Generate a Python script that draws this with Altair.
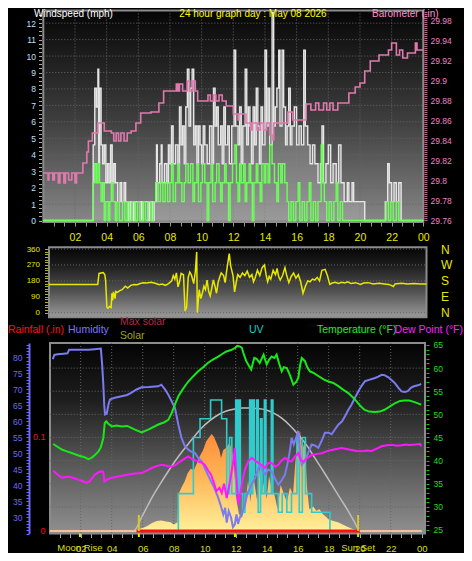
import altair as alt
import pandas as pd

FONT = "Liberation Sans"

# ---------------- top panel: wind (mph) and barometer (in) ----------------
gust = [(0.0,0),(3.1,0),(3.15,4.6),(3.25,8.05),(3.35,6.9),(3.45,9.2),(3.5,3.45),(3.55,8.05),(3.65,4.6),(3.75,3.45),
        (3.85,4.6),(3.95,2.3),(4.05,3.45),(4.15,2.3),(4.25,4.6),(4.35,2.3),(4.45,3.45),(4.55,2.3),(4.7,1.15),(4.85,2.3),
        (4.95,1.15),(5.1,2.3),(5.2,1.15),(5.4,0),(5.5,1.15),(5.7,0),(5.8,1.15),(6.2,0),(6.3,1.15),(6.6,0),(6.7,1.15),
        (6.9,0),(7.0,1.15),(7.15,4.6),(7.2,2.3),(7.35,3.45),(7.45,4.6),(7.5,2.3),(7.65,3.45),(7.8,2.3),(7.9,4.6),
        (8.0,3.45),(8.1,5.75),(8.2,3.45),(8.35,4.6),(8.5,3.45),(8.6,6.9),(8.7,4.6),(8.8,5.75),(8.9,3.45),(9.0,6.9),
        (9.1,9.2),(9.2,5.75),(9.3,8.05),(9.4,9.2),(9.5,4.6),(9.6,5.75),(9.7,3.45),(9.8,5.75),(9.9,4.6),(10.0,3.45),
        (10.1,5.75),(10.2,4.6),(10.35,3.45),(10.5,5.75),(10.65,3.45),(10.75,8.05),(10.85,5.75),(10.95,6.9),(11.05,4.6),
        (11.2,5.75),(11.3,3.45),(11.4,6.9),(11.5,4.6),(11.65,5.75),(11.75,3.45),(11.9,5.75),(12.05,10.35),(12.15,5.75),
        (12.3,4.6),(12.4,6.9),(12.5,3.45),(12.6,5.75),(12.75,9.2),(12.85,4.6),(12.95,6.9),(13.05,5.75),(13.15,3.45),
        (13.25,6.9),(13.35,4.6),(13.45,8.05),(13.55,5.75),(13.65,3.45),(13.75,6.9),(13.85,4.6),(14.0,10.35),(14.1,5.75),
        (14.2,8.05),(14.3,4.6),(14.45,12.65),(14.55,5.75),(14.65,6.9),(14.75,8.05),(14.87,10.35),(14.95,5.75),
        (15.08,10.35),(15.18,6.9),(15.3,4.6),(15.4,5.75),(15.5,8.05),(15.6,4.6),(15.7,5.75),(15.85,6.9),(16.0,4.6),
        (16.15,5.75),(16.3,4.6),(16.45,10.35),(16.55,5.75),(16.7,4.6),(16.85,3.45),(17.0,4.6),(17.15,3.45),(17.35,2.3),
        (17.5,3.45),(17.6,5.75),(17.7,2.3),(17.85,3.45),(18.0,4.6),(18.15,2.3),(18.3,3.45),(18.5,2.3),(18.65,4.6),
        (18.8,2.3),(19.0,1.15),(19.2,2.3),(19.3,1.15),(19.5,2.3),(19.6,1.15),(20.3,0),(21.6,1.15),(21.75,3.45),
        (21.85,2.3),(22.0,1.15),(22.15,2.3),(22.3,1.15),(22.45,2.3),(22.6,0),(24.0,0)]

avg = [(0,0),(3.15,2.3),(3.25,3.45),(3.35,2.3),(3.45,3.45),(3.55,2.3),(3.65,1.15),(3.75,2.3),(3.85,0),(3.95,1.15),
       (4.1,0),(4.2,1.15),(4.3,2.3),(4.4,1.15),(4.55,0),(4.65,1.15),(4.8,0),(5.0,1.15),(5.15,0),(5.3,1.15),(5.45,0),
       (5.6,1.15),(5.8,0),(5.95,1.15),(6.1,0),(6.3,1.15),(6.45,0),(6.6,1.15),(6.8,0),(6.95,1.15),(7.1,2.3),(7.25,1.15),
       (7.4,2.3),(7.55,1.15),(7.7,2.3),(7.85,1.15),(8.0,2.3),(8.1,3.45),(8.2,1.15),(8.35,2.3),(8.5,3.45),(8.6,2.3),
       (8.75,1.15),(8.9,2.3),(9.0,3.45),(9.15,2.3),(9.3,3.45),(9.45,1.15),(9.55,2.3),(9.7,3.45),(9.8,1.15),(9.95,2.3),
       (10.05,3.45),(10.2,2.3),(10.35,0),(10.45,2.3),(10.6,3.45),(10.7,1.15),(10.85,2.3),(10.95,3.45),(11.1,2.3),
       (11.2,1.15),(11.3,2.3),(11.45,3.45),(11.55,2.3),(11.7,0),(11.8,2.3),(11.95,3.45),(12.1,4.6),(12.2,2.3),
       (12.3,1.15),(12.4,3.45),(12.5,2.3),(12.65,3.45),(12.75,1.15),(12.85,2.3),(13.0,3.45),(13.1,2.3),(13.2,0),
       (13.3,2.3),(13.45,3.45),(13.55,2.3),(13.7,1.15),(13.8,3.45),(13.95,2.3),(14.05,3.45),(14.2,2.3),(14.3,4.6),
       (14.45,3.45),(14.6,2.3),(14.75,1.15),(14.85,3.45),(15.0,2.3),(15.1,3.45),(15.25,2.3),(15.4,1.15),(15.5,0),
       (15.65,1.15),(15.8,0),(15.95,1.15),(16.1,2.3),(16.2,0),(16.35,1.15),(16.5,0),(16.65,1.15),(16.8,2.3),(16.9,0),
       (17.05,1.15),(17.2,0),(17.35,1.15),(17.55,4.6),(17.65,2.3),(17.75,1.15),(17.9,0),(18.05,1.15),(18.2,0),
       (18.35,1.15),(18.5,2.3),(18.6,0),(18.75,1.15),(18.9,0),(21.65,1.15),(21.8,0),(21.95,1.15),(22.1,0),
       (22.3,1.15),(22.45,0),(24,0)]

baro = [(0.0,29.807),(0.3,29.80),(0.35,29.807),(0.6,29.80),(0.7,29.807),(0.95,29.797),(1.05,29.807),(1.3,29.797),
        (1.4,29.807),(1.6,29.80),(1.8,29.807),(2.0,29.797),(2.1,29.807),(2.5,29.817),(2.75,29.828),(2.85,29.839),
        (3.1,29.847),(3.45,29.857),(3.85,29.849),(4.3,29.847),(4.45,29.839),(4.6,29.847),(4.75,29.839),(4.9,29.847),
        (5.1,29.839),(5.3,29.847),(5.55,29.849),(5.85,29.857),(6.15,29.867),(6.8,29.868),(7.3,29.877),(7.6,29.889),
        (8.4,29.896),(8.5,29.889),(8.6,29.896),(8.8,29.889),(9.1,29.899),(9.25,29.889),(9.45,29.899),(9.6,29.889),
        (9.75,29.879),(10.4,29.885),(10.55,29.879),(10.75,29.885),(10.9,29.879),(11.1,29.885),(11.3,29.879),
        (11.55,29.874),(12.0,29.866),(12.3,29.86),(12.35,29.866),(12.8,29.857),(13.1,29.85),(13.2,29.857),(13.5,29.85),
        (13.7,29.857),(13.9,29.85),(14.1,29.857),(14.3,29.845),(14.5,29.84),(14.55,29.857),(15.45,29.868),(15.75,29.86),
        (16.6,29.876),(16.9,29.87),(17.2,29.877),(17.4,29.87),(17.7,29.877),(17.9,29.87),(18.1,29.877),(18.3,29.87),
        (18.6,29.877),(19.3,29.887),(19.7,29.893),(20.0,29.897),(20.3,29.909),(20.65,29.919),(21.2,29.925),
        (21.8,29.93),(22.0,29.937),(22.3,29.925),(22.5,29.93),(22.7,29.922),(23.0,29.927),(23.5,29.937),(23.6,29.93),
        (24.0,29.93)]

# ---------------- wind direction (degrees) ----------------
wind_dir = [(0,160),(3.1,160),(3.18,222),(3.45,227),(3.55,215),(3.6,180),(3.68,30),(3.75,25),(3.85,35),(3.95,30),
            (4.0,110),(4.05,70),(4.1,118),(4.2,80),(4.25,120),(4.35,115),(4.5,125),(4.65,130),(4.85,150),(5.0,140),
            (5.2,155),(5.4,160),(5.6,158),(5.8,165),(6.0,170),(6.2,168),(6.5,172),(6.8,165),(7.0,158),(7.2,162),
            (7.4,155),(7.6,165),(7.8,180),(7.9,210),(8.0,190),(8.1,225),(8.2,146),(8.3,175),(8.4,222),(8.55,215),
            (8.65,10),(8.75,30),(8.85,200),(8.95,230),(9.05,215),(9.2,165),(9.3,230),(9.39,344),(9.43,0),(9.55,130),
            (9.65,80),(9.75,110),(9.85,150),(9.95,130),(10.05,185),(10.15,120),(10.25,95),(10.35,140),(10.45,185),
            (10.55,150),(10.65,110),(10.75,170),(10.85,200),(10.95,225),(11.1,210),(11.2,170),(11.3,240),(11.46,335),
            (11.55,265),(11.7,210),(11.8,118),(11.9,170),(12.0,215),(12.15,200),(12.3,225),(12.45,210),(12.6,235),
            (12.75,200),(12.9,215),(13.0,175),(13.1,195),(13.25,240),(13.4,210),(13.55,255),(13.7,270),(13.8,215),
            (13.9,175),(14.0,205),(14.1,190),(14.25,240),(14.4,215),(14.5,250),(14.6,205),(14.7,185),(14.85,210),
            (15.0,255),(15.1,215),(15.25,170),(15.4,205),(15.55,225),(15.7,195),(15.85,215),(16.0,175),(16.15,110),
            (16.3,150),(16.45,180),(16.6,175),(16.75,190),(16.9,185),(17.05,200),(17.2,180),(17.35,240),(17.55,245),
            (17.7,210),(17.85,160),(18.0,168),(18.2,172),(18.4,165),(18.6,172),(18.8,168),(19.0,175),(19.2,165),
            (19.5,170),(19.8,160),(20.0,168),(20.3,170),(20.6,162),(21.0,166),(21.3,163),(21.6,160),(21.9,148),
            (22.0,163),(22.4,166),(22.8,163),(23.2,165),(23.6,162),(24.0,163)]

# ---------------- bottom panel ----------------
humidity = [(0.2,79.5),(0.3,80.8),(0.5,81.0),(0.9,81.2),(1.15,81.3),(1.25,82.4),(2.0,82.4),(2.5,82.4),(2.9,82.6),
            (3.3,82.8),(3.38,78.0),(3.46,71.5),(3.52,65.0),(3.57,62.2),(3.68,62.5),(3.8,65.5),(3.89,66.9),(4.2,67.4),
            (4.64,67.9),(5.0,68.3),(5.28,69.0),(5.6,70.0),(5.93,70.7),(6.4,70.8),(7.0,71.0),(7.2,71.5),(7.45,70.0),
            (7.65,68.4),(7.85,66.5),(8.08,64.3),(8.3,59.0),(8.5,54.9),(8.7,52.5),(8.94,51.2),(9.15,50.5),(9.37,50.2),
            (9.6,48.5),(9.8,47.6),(10.0,45.5),(10.2,43.4),(10.4,41.4),(10.6,39.5),(10.87,36.2),(11.05,33.5),(11.2,31.0),
            (11.32,33.0),(11.42,28.4),(11.55,32.0),(11.7,30.0),(11.82,27.0),(11.94,27.8),(12.05,31.0),(12.15,28.0),
            (12.26,29.9),(12.45,32.0),(12.6,34.0),(12.75,37.5),(12.92,39.2),(13.1,41.0),(13.25,42.3),(13.4,44.5),
            (13.55,46.5),(13.7,45.0),(13.89,43.4),(14.1,45.0),(14.32,44.4),(14.5,42.5),(14.75,40.2),(14.95,41.5),
            (15.18,43.4),(15.35,47.0),(15.5,51.0),(15.61,54.9),(15.75,52.8),(15.9,55.0),(16.04,57.0),(16.15,50.0),
            (16.26,46.5),(16.47,47.6),(16.7,50.5),(16.9,52.8),(17.1,52.5),(17.33,51.8),(17.55,54.0),(17.76,56.5),
            (18.0,56.5),(18.19,56.0),(18.4,57.5),(18.62,59.0),(18.85,60.0),(19.05,61.6),(19.25,63.5),(19.48,65.3),
            (19.7,67.5),(19.91,69.4),(20.1,71.0),(20.34,72.6),(20.6,73.0),(20.99,73.6),(21.2,74.0),(21.42,74.6),
            (21.6,74.5),(21.85,73.8),(22.05,73.0),(22.27,72.0),(22.5,70.5),(22.7,69.4),(22.9,69.2),(23.1,69.5),
            (23.3,70.5),(23.5,71.0),(23.75,71.3),(23.97,71.7)]

temperature = [(0.23,43.6),(0.5,43.0),(0.78,42.4),(1.1,42.0),(1.42,41.65),(1.85,41.1),(2.2,40.8),(2.49,40.3),
               (2.7,40.6),(2.92,41.2),(3.15,42.0),(3.3,42.9),(3.46,44.9),(3.55,48.1),(3.65,48.5),(3.8,47.9),(4.0,47.4),
               (4.3,47.6),(4.64,47.4),(5.0,47.5),(5.5,46.7),(5.93,46.1),(6.36,46.7),(7.01,47.8),(7.4,48.3),(7.65,48.8),
               (7.87,50.3),(8.1,52.3),(8.3,53.9),(8.6,55.5),(8.94,57.1),(9.25,58.2),(9.58,59.3),(9.9,60.2),(10.2,61.1),
               (10.5,61.8),(10.87,62.5),(11.1,63.0),(11.4,63.6),(11.7,63.9),(11.94,64.3),(12.1,64.8),(12.26,64.7),
               (12.4,64.4),(12.5,63.2),(12.68,61.5),(12.85,60.5),(13.0,59.7),(13.1,61.0),(13.2,62.2),(13.35,62.0),
               (13.55,61.1),(13.7,62.2),(13.8,62.9),(13.9,61.8),(14.0,60.8),(14.15,61.8),(14.32,62.5),(14.5,62.2),
               (14.64,62.9),(14.8,61.0),(14.97,59.3),(15.1,60.2),(15.3,60.0),(15.5,58.5),(15.72,56.4),(15.9,57.0),
               (16.04,57.9),(16.15,60.5),(16.26,62.2),(16.47,61.5),(16.6,60.3),(16.79,59.3),(17.0,59.0),(17.33,58.3),
               (17.7,57.5),(17.98,57.1),(18.3,56.8),(18.62,56.1),(18.95,55.3),(19.27,54.6),(19.55,53.7),(19.8,52.8),
               (20.05,51.8),(20.3,51.0),(20.6,50.6),(20.99,50.5),(21.3,50.6),(21.6,51.0),(21.9,51.6),(22.27,52.4),
               (22.6,52.9),(22.9,53.0),(23.2,53.0),(23.5,52.7),(23.97,52.1)]

dew_point = [(0.23,37.8),(0.5,37.0),(0.78,36.3),(1.1,36.5),(1.4,36.4),(1.85,35.9),(2.1,35.6),(2.39,35.2),(2.6,35.6),
             (2.92,37.0),(3.15,37.5),(3.35,37.7),(3.45,37.6),(3.53,35.5),(3.75,36.0),(4.0,36.3),(4.5,36.6),(5.07,37.0),
             (5.5,37.2),(5.93,37.3),(6.3,37.9),(6.58,38.4),(6.9,38.8),(7.22,39.1),(7.55,38.9),(7.87,38.7),(8.1,39.0),
             (8.3,39.5),(8.6,40.2),(8.94,40.9),(9.2,40.3),(9.58,39.8),(9.8,39.6),(10.0,39.1),(10.25,37.7),(10.4,37.0),
             (10.56,35.5),(10.76,33.4),(10.95,34.1),(11.1,33.0),(11.25,35.0),(11.42,31.9),(11.6,35.0),(11.74,37.7),
             (11.85,40.0),(11.94,42.7),(12.05,36.0),(12.17,30.5),(12.3,33.0),(12.47,36.3),(12.6,38.0),(12.8,39.8),
             (13.03,40.6),(13.25,40.0),(13.46,39.5),(13.7,39.0),(13.89,38.4),(14.1,39.5),(14.32,39.5),(14.55,38.7),
             (14.75,39.1),(14.95,40.0),(15.18,40.6),(15.4,40.0),(15.61,39.8),(15.8,40.8),(16.04,41.6),(16.2,40.0),
             (16.35,39.8),(16.6,40.5),(16.9,41.2),(17.2,41.4),(17.55,41.6),(17.85,42.0),(18.19,42.3),(18.5,42.5),
             (18.84,42.7),(19.15,42.5),(19.48,42.3),(19.8,42.1),(20.13,42.0),(20.45,42.2),(20.77,42.1),(21.1,42.6),
             (21.42,43.1),(21.75,43.3),(22.06,43.4),(22.4,43.2),(22.7,43.3),(23.0,43.5),(23.2,43.4),(23.6,43.5),
             (23.9,43.6),(23.97,43.1)]

solar = [(0,0),(5.4,0),(5.6,8),(6.0,20),(6.3,35),(6.6,55),(6.9,70),(7.2,72),(7.5,65),(7.8,60),(8.0,45),(8.25,60),
         (8.3,250),(8.5,300),(8.7,340),(8.9,400),(9.1,430),(9.3,420),(9.5,470),(9.7,520),(9.9,560),(10.1,620),
         (10.3,650),(10.45,670),(10.6,650),(10.8,600),(10.95,560),(11.05,505),(11.2,560),(11.4,575),(11.6,610),
         (11.75,560),(11.9,450),(12.0,250),(12.2,120),(12.4,90),(12.6,160),(12.8,350),(12.95,200),(13.1,420),
         (13.25,300),(13.4,200),(13.55,430),(13.7,280),(13.85,350),(14.0,220),(14.15,380),(14.3,300),(14.5,250),
         (14.7,150),(14.9,320),(15.1,260),(15.3,200),(15.5,300),(15.7,250),(15.85,480),(16.0,640),(16.15,690),
         (16.3,560),(16.45,620),(16.6,300),(16.75,150),(17.0,170),(17.2,140),(17.4,150),(17.6,120),(17.8,100),
         (18.0,80),(18.3,70),(18.6,60),(18.9,45),(19.2,30),(19.5,15),(19.8,5),(20.0,0),(24,0)]

max_solar = [(0,0),(5.4,0),(6.0,110),(6.58,228),(7.1,320),(7.65,413),(8.2,500),(8.73,574),(9.3,650),(9.8,712),
             (10.35,765),(10.88,804),(11.4,830),(11.95,844),(12.45,850),(12.92,850),(13.4,846),(13.9,839),
             (14.45,815),(14.97,781),(15.5,730),(16.04,666),(16.6,590),(17.1,505),(17.65,415),(18.2,320),
             (18.75,225),(19.27,136),(19.65,65),(20.02,0),(24,0)]

uv = [(0,0),(8.3,2),(9.27,5),(9.7,6),(10.38,7),(11.09,6),(11.42,2),(11.6,5),(11.75,2),(12.0,7),(12.1,2),(12.2,7),
      (12.3,2),(12.45,1),(12.6,2),(12.9,7),(13.0,2),(13.1,7),(13.2,3),(13.35,7),(13.45,1),(13.6,6),(13.7,2),
      (13.85,7),(13.95,2),(14.3,7),(14.4,2),(14.75,1),(15.0,2),(15.3,1),(15.6,2),(15.95,5),(16.1,1),(16.3,5),
      (16.5,2),(16.9,1),(18.08,0),(24,0)]

rainfall = [(0,0),(24,0)]
daylight = [(5.6,0),(20.0,0)]

event_h = [1.95, 5.75, 11.95, 19.9]
event_label = ["Moon Rise", "", "", "Sun Set"]
sun_h = [5.75, 19.9]

# ---------------- layout (chart pixels) ----------------
W, H = 456, 545
TOP_X, TOP_Y = [35.3, 415.3], [214, 2.5]
DIR_X, DIR_Y = [41, 418.5], [309.3, 239.3]
BOT_X, BOT_Y = [41.7, 413.7], [525.5, 335]

WS_DOM = [-0.09, 12.77]
BARO_DOM = [29.758, 29.9695]
DIR_DOM = [-26, 370]
TEMP_DOM = [24.24, 65.43]
HUM_DOM = [25, 84.53]
RAIN_DOM = [-0.00266, 0.2]
SOL_DOM = [-17.3, 1300]
UV_DOM = [-0.134, 10.05]


def frame(pairs):
    return pd.DataFrame({"h": [p[0] for p in pairs], "v": [p[1] for p in pairs]})


def xsc(rng):
    return alt.Scale(domain=[0, 24], range=rng, nice=False, zero=False)


def ysc(dom, rng):
    return alt.Scale(domain=dom, range=rng, nice=False, zero=False)


def axis(orient, offset, values, expr, lcolor, tcolor, lsize=8, tick=3, pad=2, **kw):
    args = dict(orient=orient, offset=offset, values=values, labelExpr=expr, labelColor=lcolor,
                labelFont=FONT, labelFontSize=lsize, tickColor=tcolor, tickSize=tick, labelPadding=pad,
                domain=False, grid=False, title=None, labelOverlap=False, labelFlush=False)
    args.update(kw)
    return alt.Axis(**args)


one = pd.DataFrame({"k": [0]})


def panel(x0, x1, y0, y1, stops):
    grad = alt.LinearGradient(gradient="linear",
                              stops=[alt.GradientStop(color=c, offset=o) for o, c in stops],
                              x1=0, x2=0, y1=0, y2=1)
    return alt.Chart(one).mark_rect(fill=grad, stroke="#8c8c8c", strokeWidth=2).encode(
        x=alt.value(x0), x2=alt.value(x1), y=alt.value(y0), y2=alt.value(y1))


def label(text, x, y, color, size=10.5, align="left", baseline="middle"):
    return alt.Chart(one).mark_text(text=text, color=color, font=FONT, fontSize=size,
                                    align=align, baseline=baseline).encode(x=alt.value(x), y=alt.value(y))


def vgrid(xr, y0, y1):
    return alt.Chart(pd.DataFrame({"h": list(range(2, 24, 2))})).mark_rule(
        color="#666666", strokeDash=[1, 2], strokeWidth=1).encode(
        x=alt.X("h:Q", scale=xsc(xr), axis=None), y=alt.value(y0), y2=alt.value(y1))


def hgrid(vals, dom, yr, x0, x1, ax=None):
    return alt.Chart(pd.DataFrame({"v": vals})).mark_rule(
        color="#666666", strokeDash=[1, 2], strokeWidth=1).encode(
        y=alt.Y("v:Q", scale=ysc(dom, yr), axis=ax), x=alt.value(x0), x2=alt.value(x1))


# tick value lists
x_ticks = [round(k * 2 / 3, 4) for k in range(1, 37)]
x_expr = ("abs(datum.value - round(datum.value)) < 0.01 && round(datum.value) % 2 == 0 ? "
          "(round(datum.value) == 24 ? '00' : (round(datum.value) < 10 ? '0' : '') + round(datum.value)) : ''")
ws_ticks = [i * 0.25 for i in range(51)]
baro_ticks = [round(29.76 + i * 0.002, 3) for i in range(105)]
baro_expr = ("round(datum.value*1000) % 20 == 0 ? (round(datum.value*1000) == 29960 ? '29.98' : "
             "format(datum.value, '.4~r')) : ''")
dir_ticks = list(range(0, 361, 15))
hum_ticks = list(range(25, 85))
temp_ticks = list(range(25, 66))
rain_ticks = [0, 0.025, 0.05, 0.075, 0.1, 0.125, 0.15, 0.175, 0.2]

YEL = "#e8e800"

layers = []
# backgrounds
layers.append(panel(TOP_X[0], TOP_X[1], TOP_Y[1], TOP_Y[0],
                    [(0, "#040404"), (0.1, "#111111"), (0.5, "#3c3c3c"), (1, "#868686")]))
layers.append(panel(DIR_X[0], DIR_X[1], DIR_Y[1], DIR_Y[0],
                    [(0, "#060606"), (0.25, "#1c1c1c"), (0.65, "#555555"), (1, "#9a9a9a")]))
layers.append(panel(BOT_X[0] + 0.3, 417, BOT_Y[1], BOT_Y[0],
                    [(0, "#040404"), (0.3, "#1e1e1e"), (0.6, "#525252"), (1, "#909090")]))

# grids
layers.append(vgrid(TOP_X, TOP_Y[1], TOP_Y[0]))
layers.append(hgrid(list(range(1, 13)), WS_DOM, TOP_Y, TOP_X[0], TOP_X[1]))
layers.append(hgrid([0, 90, 180, 270, 360], DIR_DOM, DIR_Y, DIR_X[0], DIR_X[1],
                    ax=axis("right", -37.5, [0, 90, 180, 270, 360],
                            "['N','E','S','W','N'][round(datum.value/90)]", YEL, YEL,
                            lsize=12, tick=0, pad=14, ticks=False)))
layers.append(vgrid(BOT_X, BOT_Y[1], BOT_Y[0]))
layers.append(hgrid(list(range(30, 65, 5)), TEMP_DOM, BOT_Y, BOT_X[0], 417))

# ---- top panel series ----
xt = alt.X("h:Q", scale=xsc(TOP_X),
           axis=axis("bottom", TOP_Y[0] - H, x_ticks, x_expr, YEL, "#999999", lsize=10.5, tick=4, pad=6))
layers.append(alt.Chart(frame(gust)).mark_area(interpolate="step-after", color="#cfcfcf", opacity=0.28).encode(
    x=alt.X("h:Q", scale=xsc(TOP_X), axis=None),
    y=alt.Y("v:Q", scale=ysc(WS_DOM, TOP_Y), axis=None), y2=alt.datum(0)))
layers.append(alt.Chart(frame(gust)).mark_line(interpolate="step-after", color="#e6e6e6", strokeWidth=1.4).encode(
    x=xt,
    y=alt.Y("v:Q", scale=ysc(WS_DOM, TOP_Y),
            axis=axis("left", -33.5, ws_ticks, "datum.value % 1 == 0 ? '' + datum.value : ''",
                      "#bfe0ff", "#aaaaaa", lsize=8.5, tick=3, pad=3))))
layers.append(alt.Chart(frame(avg)).mark_line(interpolate="step-after", color="#6cff5a", strokeWidth=1.4).encode(
    x=alt.X("h:Q", scale=xsc(TOP_X), axis=None),
    y=alt.Y("v:Q", scale=ysc(WS_DOM, TOP_Y), axis=None)))
layers.append(alt.Chart(frame(baro)).mark_line(interpolate="step-after", color="#e07aae", strokeWidth=1.6).encode(
    x=alt.X("h:Q", scale=xsc(TOP_X), axis=None),
    y=alt.Y("v:Q", scale=ysc(BARO_DOM, TOP_Y),
            axis=axis("right", -40, baro_ticks, baro_expr, "#f080c0", "#c06090", lsize=8.5, tick=3, pad=3))))

# ---- wind direction ----
layers.append(alt.Chart(frame(wind_dir)).mark_line(color=YEL, strokeWidth=1.5).encode(
    x=alt.X("h:Q", scale=xsc(DIR_X), axis=None),
    y=alt.Y("v:Q", scale=ysc(DIR_DOM, DIR_Y),
            axis=axis("left", -39.5, dir_ticks, "datum.value % 90 == 0 ? '' + datum.value : ''",
                      YEL, "#b0b020", lsize=8, tick=3, pad=5))))

# ---- bottom panel ----
layers.append(alt.Chart(frame(solar)).mark_area(
    fill=alt.LinearGradient(gradient="linear", x1=0, x2=0, y1=0, y2=1,
                            stops=[alt.GradientStop(color="#ff8a3a", offset=0),
                                   alt.GradientStop(color="#ffb455", offset=0.45),
                                   alt.GradientStop(color="#fff09a", offset=1)])).encode(
    x=alt.X("h:Q", scale=xsc(BOT_X), axis=None),
    y=alt.Y("v:Q", scale=ysc(SOL_DOM, BOT_Y), axis=None), y2=alt.datum(0)))
layers.append(alt.Chart(frame(max_solar)).mark_line(color="#bdbdbd", strokeWidth=1.5, interpolate="monotone").encode(
    x=alt.X("h:Q", scale=xsc(BOT_X), axis=None),
    y=alt.Y("v:Q", scale=ysc(SOL_DOM, BOT_Y), axis=None)))
layers.append(alt.Chart(frame(uv)).mark_line(interpolate="step-after", color="#30cccc", strokeWidth=1.6).encode(
    x=alt.X("h:Q", scale=xsc(BOT_X), axis=None),
    y=alt.Y("v:Q", scale=ysc(UV_DOM, BOT_Y), axis=None)))
layers.append(alt.Chart(frame(rainfall)).mark_line(color="#f4c0a0", strokeWidth=2).encode(
    x=alt.X("h:Q", scale=xsc(BOT_X), axis=None),
    y=alt.Y("v:Q", scale=ysc(RAIN_DOM, BOT_Y),
            axis=axis("left", -45, rain_ticks,
                      "datum.value == 0 ? '0' : (datum.value == 0.1 ? '0.1' : '')",
                      "#ee1111", "#dd2222", lsize=9, tick=3, pad=5))))
layers.append(alt.Chart(frame(daylight)).mark_line(color="#ff1010", strokeWidth=3).encode(
    x=alt.X("h:Q", scale=xsc(BOT_X), axis=None),
    y=alt.Y("v:Q", scale=ysc(RAIN_DOM, BOT_Y), axis=None)))
layers.append(alt.Chart(frame(humidity)).mark_line(color="#7b7bf2", strokeWidth=2).encode(
    x=alt.X("h:Q", scale=xsc(BOT_X),
            axis=axis("bottom", BOT_Y[0] - H, x_ticks, x_expr, "#dede20", "#aaaaaa", lsize=9.5, tick=4, pad=6)),
    y=alt.Y("v:Q", scale=ysc(HUM_DOM, BOT_Y),
            axis=axis("left", -21, hum_ticks,
                      "datum.value % 5 == 0 && datum.value >= 30 ? '' + datum.value : ''",
                      "#6a6aff", "#6a6aff", lsize=8.5, tick=3, pad=4,
                      domain=True, domainColor="#6a6aff", domainWidth=2))))
layers.append(alt.Chart(frame(temperature)).mark_line(color="#18e818", strokeWidth=2).encode(
    x=alt.X("h:Q", scale=xsc(BOT_X), axis=None),
    y=alt.Y("v:Q", scale=ysc(TEMP_DOM, BOT_Y),
            axis=axis("right", -38, temp_ticks,
                      "datum.value % 5 == 0 ? '' + datum.value : ''",
                      "#22dd22", "#22bb22", lsize=8.5, tick=3, pad=4))))
layers.append(alt.Chart(frame(dew_point)).mark_line(color="#ff18ff", strokeWidth=2).encode(
    x=alt.X("h:Q", scale=xsc(BOT_X), axis=None),
    y=alt.Y("v:Q", scale=ysc(TEMP_DOM, BOT_Y), axis=None)))

# sun / moon event markers
ev = pd.DataFrame({"h": event_h, "t": event_label})
layers.append(alt.Chart(ev).mark_rule(color=YEL, strokeWidth=2).encode(
    x=alt.X("h:Q", scale=xsc(BOT_X), axis=None), y=alt.value(525.5), y2=alt.value(529)))
layers.append(alt.Chart(pd.DataFrame({"h": sun_h})).mark_rule(color="#d8c828", strokeWidth=2).encode(
    x=alt.X("h:Q", scale=xsc(BOT_X), axis=None), y=alt.value(507), y2=alt.value(523)))
layers.append(alt.Chart(ev).mark_text(color="#dede20", font=FONT, fontSize=9.5, baseline="middle").encode(
    x=alt.X("h:Q", scale=xsc(BOT_X), axis=None), y=alt.value(540), text="t:N"))

# titles
layers.append(label("Windspeed (mph)", 26, 1, "#ffffff", size=10, baseline="top"))
layers.append(label("24 hour graph day : May 08 2026", 245, 1, "#ffff00", size=10, align="center", baseline="top"))
layers.append(label("Barometer (.in)", 364, 1, "#ff90cc", size=10, baseline="top"))
layers.append(label("Rainfall (.in)", 0, 322, "#ff1010"))
layers.append(label("Humidity", 60, 322, "#7878ff"))
layers.append(label("Max solar", 112, 314, "#b02848"))
layers.append(label("Solar", 112, 328, "#a0a020"))
layers.append(label("UV", 241, 322, "#20cccc"))
layers.append(label("Temperature (°F)", 309, 322, "#22ee22"))
layers.append(label("Dew Point (°F)", 455, 322, "#ff22ff", align="right"))

chart = alt.layer(*layers).resolve_scale(x="independent", y="independent").resolve_axis(
    x="independent", y="independent").properties(
    width=W, height=H, background="#000000", padding=0, autosize=alt.AutoSizeParams(type="none")
).configure_view(strokeWidth=0)

chart.save("out.html", embed_options={"renderer": "svg", "actions": False})
